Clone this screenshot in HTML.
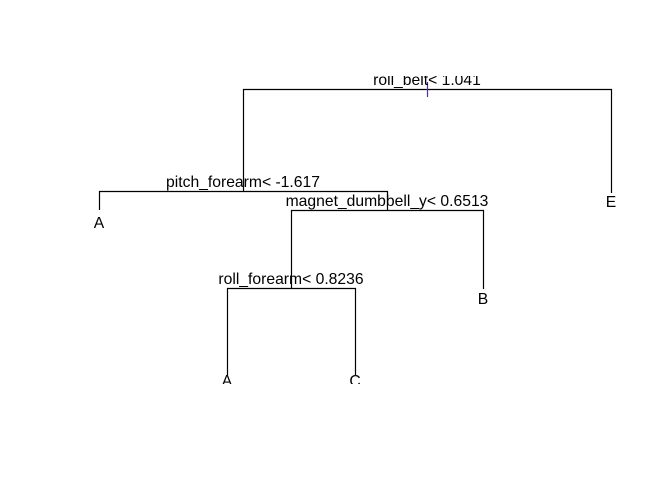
<!DOCTYPE html>
<html><head><style>html,body{margin:0;padding:0;background:#fff;}svg{display:block;}</style></head>
<body>
<svg width="672" height="480" xmlns="http://www.w3.org/2000/svg" font-family="Liberation Sans, Arial, sans-serif" font-size="15.7">
<defs><clipPath id="c"><rect x="0" y="76" width="672" height="308"/></clipPath></defs>
<rect width="672" height="480" fill="#fff"/>
<g clip-path="url(#c)" stroke="#000" stroke-width="1.2" fill="none">
<path d="M243.5 191V89.5H611.5V193"/>
<path d="M99.5 210V191.5H387.5V210"/>
<path d="M291.5 288V210.5H483.5V289"/>
<path d="M227.5 375V288.5H355.5V375"/>
<path d="M427.5 82V97" stroke="#5b2c9c"/>
</g>
<g clip-path="url(#c)" fill="#000" text-anchor="middle">
<text x="427" y="85">roll_belt&lt; 1.041</text>
<text x="243" y="187">pitch_forearm&lt; -1.617</text>
<text x="387" y="206">magnet_dumbbell_y&lt; 0.6513</text>
<text x="291" y="284">roll_forearm&lt; 0.8236</text>
<text x="99" y="228">A</text>
<text x="611" y="207">E</text>
<text x="483" y="304">B</text>
<text x="227" y="386">A</text>
<text x="355" y="386">C</text>
</g>
</svg>
</body></html>
